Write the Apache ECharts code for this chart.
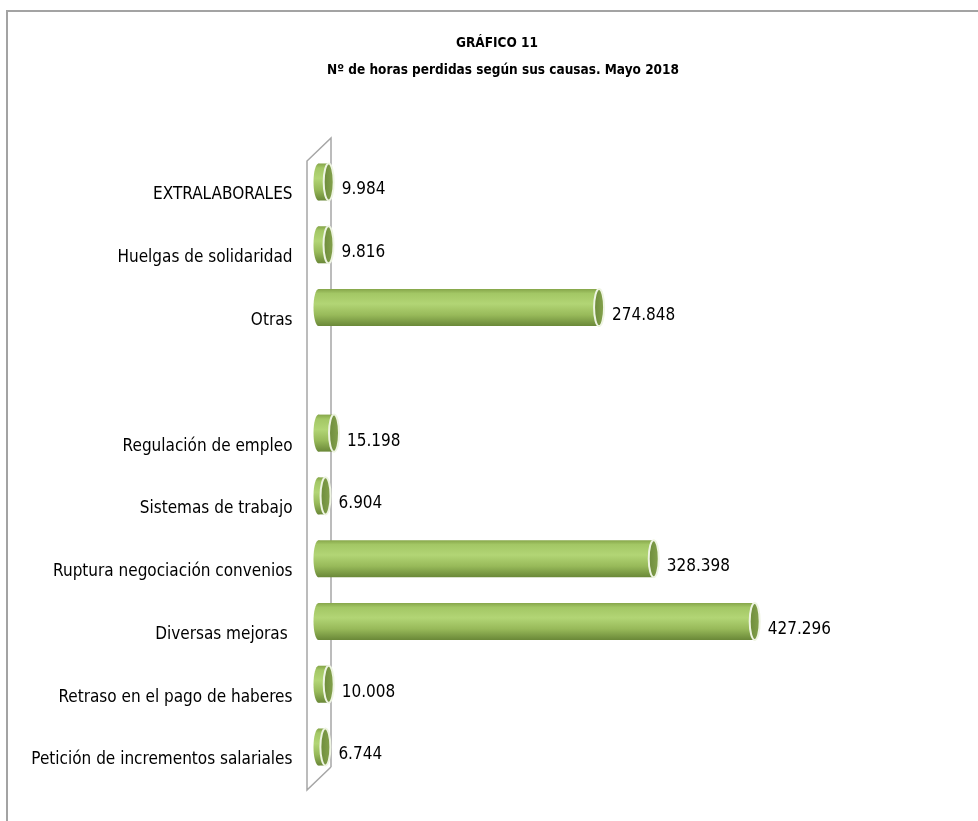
<!DOCTYPE html>
<html>
<head>
<meta charset="utf-8">
<title>GRÁFICO 11</title>
<script src="https://cdn.jsdelivr.net/npm/echarts@6/dist/echarts.min.js"></script>
<style>
html, body { margin: 0; padding: 0; background: #fff; }
#grafico { width: 978px; height: 821px; }
</style>
</head>
<body>
<div id="grafico"></div>
<script>
"use strict";
// Datos del gráfico (de arriba a abajo). La fila vacía es el hueco entre grupos.
var causas = [
	'EXTRALABORALES',
	'Huelgas de solidaridad',
	'Otras',
	'',
	'Regulación de empleo',
	'Sistemas de trabajo',
	'Ruptura negociación convenios',
	'Diversas mejoras ',
	'Retraso en el pago de haberes',
	'Petición de incrementos salariales'
];
var horas = [9984, 9816, 274848, null, 15198, 6904, 328398, 427296, 10008, 6744];

var titulo = 'GRÁFICO 11';
var subtitulo = 'Nº de horas perdidas según sus causas. Mayo 2018';

var fuente = '"Liberation Sans Narrow", "DejaVu Sans Condensed", sans-serif';

// número con punto de miles, como en el original
function formatoMiles(v) {
	return String(v).replace(/\B(?=(\d{3})+(?!\d))/g, '.');
}

// cilindro horizontal: cuerpo con degradado + tapa elíptica al final
function dibujaCilindro(params, api) {
	var v = api.value(0);
	if (v == null || isNaN(v)) {
		return;
	}
	var idx = api.value(1);
	var ini = api.coord([0, idx]);
	var fin = api.coord([v, idx]);
	var alto = api.size([0, 1])[1] * 0.59;
	var ry = alto / 2;
	var rx = ry * 0.27;
	var cy = ini[1];

	var degradado = new echarts.graphic.LinearGradient(0, 0, 0, 1, [
		{ offset: 0, color: '#86a64a' },
		{ offset: 0.12, color: '#a3c765' },
		{ offset: 0.4, color: '#b2d575' },
		{ offset: 0.7, color: '#98ba5a' },
		{ offset: 1, color: '#6a8838' }
	]);
	var tapa = new echarts.graphic.LinearGradient(0, 0, 1, 0, [
		{ offset: 0, color: '#6c8a3a' },
		{ offset: 1, color: '#86a44e' }
	]);

	return {
		type: 'group',
		children: [
			{
				type: 'ellipse',
				shape: { cx: ini[0], cy: cy, rx: rx, ry: ry },
				style: { fill: degradado }
			},
			{
				type: 'rect',
				shape: { x: ini[0], y: cy - ry, width: fin[0] - ini[0], height: alto },
				style: { fill: degradado }
			},
			{
				type: 'ellipse',
				shape: { cx: fin[0], cy: cy, rx: rx, ry: ry },
				style: { fill: tapa, stroke: '#eef4e2', lineWidth: 2 }
			},
			{
				type: 'text',
				style: {
					x: fin[0] + rx + 8,
					y: cy + 8,
					text: formatoMiles(v),
					fill: '#000',
					font: '17px ' + fuente,
					textAlign: 'left',
					textVerticalAlign: 'middle'
				}
			}
		]
	};
}

var datos = [];
for (var i = 0; i < horas.length; i++) {
	datos.push([horas[i], i]);
}

var myChart = echarts.init(document.getElementById('grafico'));
var option = {
	backgroundColor: '#fff',
	animation: false,
	graphic: [
		// marco del gráfico
		{
			type: 'rect',
			z: 0,
			shape: { x: 7, y: 11, width: 1000, height: 900 },
			style: { fill: 'none', stroke: '#a3a3a3', lineWidth: 2 }
		},
		// pared 3D detrás de las barras
		{
			type: 'polyline',
			z: 0,
			shape: { points: [[331, 767], [331, 138], [307, 161], [307, 790], [331, 767]] },
			style: { fill: 'none', stroke: '#a6a6a6', lineWidth: 1.5 }
		},
		{
			type: 'text',
			z: 1,
			style: {
				x: 497, y: 43, text: titulo, textAlign: 'center', textVerticalAlign: 'middle',
				font: 'bold 13.5px ' + fuente, fill: '#000'
			}
		},
		{
			type: 'text',
			z: 1,
			style: {
				x: 503, y: 70, text: subtitulo, textAlign: 'center', textVerticalAlign: 'middle',
				font: 'bold 13.5px ' + fuente, fill: '#000'
			}
		}
	],
	grid: {
		left: 318.5,
		right: 47,
		top: 150.6,
		bottom: 42.6,
		containLabel: false
	},
	xAxis: {
		type: 'value',
		min: 0,
		max: 600000,
		show: false
	},
	yAxis: {
		type: 'category',
		inverse: true,
		data: causas,
		axisLine: { show: false },
		axisTick: { show: false },
		splitLine: { show: false },
		axisLabel: {
			margin: 26,
			color: '#000',
			fontFamily: fuente,
			fontSize: 17,
			verticalAlign: 'top',
			lineHeight: 26
		}
	},
	series: [
		{
			type: 'custom',
			z: 5,
			renderItem: dibujaCilindro,
			encode: { x: 0, y: 1 },
			data: datos
		}
	]
};
myChart.setOption(option);
</script>
</body>
</html>
